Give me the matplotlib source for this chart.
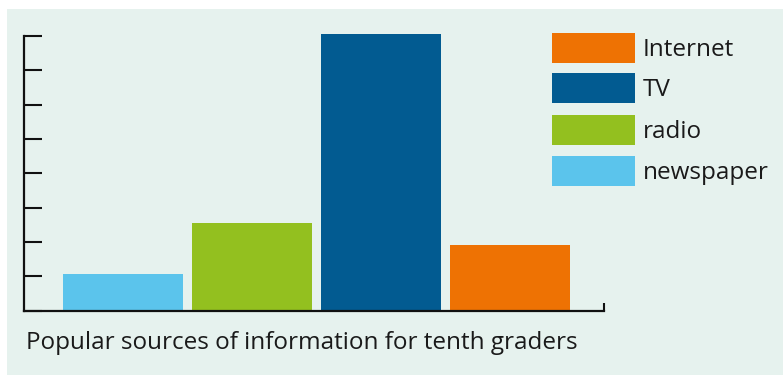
import matplotlib
matplotlib.use("Agg")
import matplotlib.pyplot as plt
from matplotlib.patches import Rectangle

categories = ["newspaper", "radio", "TV", "Internet"]
values = [1.05, 2.55, 8.05, 1.9]
colors = ["#5BC4EC", "#93C01F", "#025B91", "#EE7203"]
legend_order = ["Internet", "TV", "radio", "newspaper"]
title = "Popular sources of information for tenth graders"

W, H = 783, 375
fig = plt.figure(figsize=(W / 100, H / 100), dpi=100)
fig.patch.set_facecolor("white")
bg = "#E6F2EE"
fig.patches.append(Rectangle((7 / W, 0), 1 - 7 / W, 1 - 9 / H, transform=fig.transFigure,
                             facecolor=bg, edgecolor="none", zorder=-10))

plt.rcParams['font.family'] = ['Open Sans', 'DejaVu Sans']

# axes geometry in pixels
x0, x1 = 24, 604
ybase = 310.5
unit = 34.3
ytop_val = 8.1
ax = fig.add_axes([x0 / W, (H - ybase) / H, (x1 - x0) / W, ytop_val * unit / H])
ax.set_facecolor("none")

pos = list(range(len(categories)))
ax.bar(pos, values, width=0.93, color=colors, zorder=2)
ax.set_xlim(-0.767, 3.73)
ax.set_ylim(0, ytop_val)

for s in ["top", "right"]:
    ax.spines[s].set_visible(False)
ax.spines["left"].set_bounds(0, 8)
for s in ["left", "bottom"]:
    ax.spines[s].set_linewidth(1.6)
    ax.spines[s].set_color("#111111")

ax.set_yticks(range(0, 9))
ax.set_yticklabels([])
ax.tick_params(axis="y", direction="in", length=13, width=1.5, color="#111111")
ax.set_xticks([3.73])
ax.set_xticklabels([])
ax.tick_params(axis="x", direction="in", length=6, width=1.5, color="#111111")

fig.text(26 / W, 1 - 349 / H, title, fontsize=17.5, color="#1a1a1a", ha="left", va="baseline")

# legend
lx0, lw, lh = 552, 83, 30
tops = [33, 73, 115, 156]
cmap = dict(zip(categories, colors))
for name, t in zip(legend_order, tops):
    fig.patches.append(Rectangle((lx0 / W, 1 - (t + lh) / H), lw / W, lh / H,
                                 transform=fig.transFigure, facecolor=cmap[name],
                                 edgecolor="none"))
    fig.text(643 / W, 1 - (t + lh / 2 + 2) / H, name, fontsize=17.5, color="#1a1a1a",
             ha="left", va="center")

fig.savefig("out.png", dpi=100, facecolor=fig.get_facecolor())
